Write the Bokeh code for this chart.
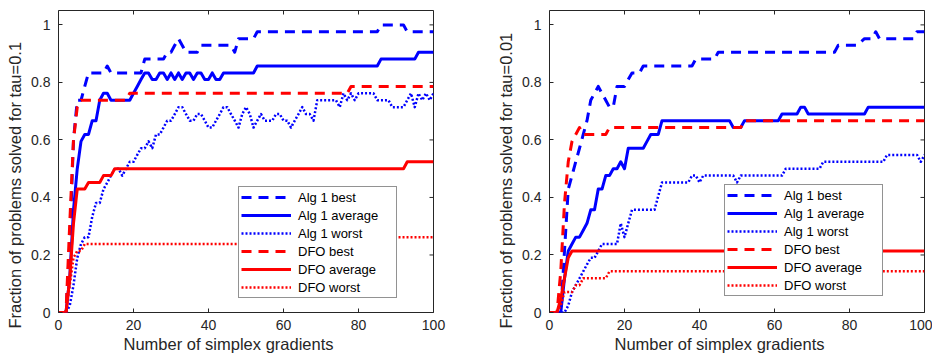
from bokeh.plotting import figure
from bokeh.layouts import row
from bokeh.models import FixedTicker, Legend, LegendItem, Range1d, Title
from bokeh.embed import file_html
from bokeh.resources import INLINE

# ---------------- data ----------------
x_ticks = [0, 20, 40, 60, 80, 100]
y_ticks = [0, 0.2, 0.4, 0.6, 0.8, 1.0]
y_tick_labels = ["0", "0.2", "0.4", "0.6", "0.8", "1"]
series_names = ["Alg 1 best", "Alg 1 average", "Alg 1 worst", "DFO best", "DFO average", "DFO worst"]
x_label = "Number of simplex gradients"
y_label_left = "Fraction of problems solved for tau=0.1"
y_label_right = "Fraction of problems solved for tau=0.01"
X_MIN, X_MAX = 0, 100
Y_MIN, Y_MAX = 0, 1.05

# tau = 0.1
t1_alg1_best_x = [0, 2, 3, 4, 5, 6, 7, 8, 12, 13, 14, 22, 23, 28, 29, 30, 31, 32, 34, 37, 38, 46, 47, 48, 51, 52, 53, 85, 86, 92, 93, 100]
t1_alg1_best_y = [0, 0, .24, .6, .738, .738, .786, .833, .833, .857, .833, .833, .881, .881, .905, .905, .929, .952, .905, .905, .929, .929, .905, .952, .952, .952, .976, .976, 1.0, 1.0, .976, .976]

t1_alg1_avg_x = [0, 2, 3, 4, 5, 6, 7, 8, 9, 10, 11, 12, 13, 14, 19, 20, 21, 22, 23, 24, 25, 26, 27, 28, 29, 30, 31, 32, 33, 34, 35, 36, 37, 38, 39, 40, 41, 42, 43, 44, 52, 53, 85, 86, 95, 96, 100]
t1_alg1_avg_y = [0, 0, .12, .357, .5, .595, .619, .619, .667, .667, .738, .762, .762, .738, .738, .762, .786, .81, .833, .833, .81, .81, .833, .833, .81, .833, .81, .833, .81, .833, .833, .81, .833, .833, .81, .81, .833, .81, .81, .833, .833, .857, .857, .881, .881, .905, .905]

t1_alg1_worst_x = [0] + list(range(2, 101))
t1_alg1_worst_y = [0,
                   0, .024, .095, .19, .238, .262, .262, .333, .381, .381,
                   .429, .452, .476, .5, .5, .476, .5, .524, .524, .548,
                   .571, .571, .595, .571, .619, .619, .643, .667, .667, .69,
                   .714, .714, .69, .667, .667, .69, .69, .667, .643, .643,
                   .667, .69, .714, .714, .69, .667, .643, .69, .714, .69,
                   .643, .667, .69, .667, .667, .667, .69, .69, .667, .667,
                   .643, .667, .69, .714, .69, .69, .667, .738, .738, .738,
                   .738, .738, .738, .714, .762, .738, .762, .738, .762, .762,
                   .762, .762, .762, .738, .738, .738, .738, .714, .714, .714,
                   .714, .738, .762, .714, .762, .738, .762, .738, .762]

t1_dfo_best_x = [0, 2, 3, 4, 5, 6, 18, 19, 77, 78, 100]
t1_dfo_best_y = [0, 0, .31, .6, .714, .738, .738, .762, .762, .786, .786]

t1_dfo_avg_x = [0, 2, 3, 4, 5, 7, 8, 11, 12, 14, 15, 92, 93, 100]
t1_dfo_avg_y = [0, 0, .119, .31, .429, .429, .452, .452, .476, .476, .5, .5, .524, .524]

t1_dfo_worst_x = [0, 2, 3, 4, 5, 6, 7, 75, 76, 100]
t1_dfo_worst_y = [0, 0, .095, .19, .214, .214, .238, .238, .262, .262]

# tau = 0.01
t2_alg1_best_x = [0, 3, 4, 5, 6, 7, 8, 9, 10, 11, 12, 13, 14, 15, 16, 17, 18, 20, 21, 22, 24, 25, 38, 39, 44, 45, 76, 77, 82, 84, 86, 87, 88, 97, 98, 100]
t2_alg1_best_y = [0, 0, .214, .429, .476, .524, .571, .619, .667, .738, .762, .786, .762, .738, .714, .714, .786, .786, .81, .833, .833, .857, .857, .881, .881, .905, .905, .929, .929, .952, .952, .976, .952, .952, .976, .976]

t2_alg1_avg_x = [0, 3, 4, 5, 6, 7, 8, 9, 10, 11, 12, 13, 14, 15, 16, 17, 18, 19, 20, 21, 25, 26, 27, 29, 30, 48, 49, 51, 52, 61, 62, 66, 67, 68, 69, 84, 85, 100]
t2_alg1_avg_y = [0, 0, .119, .214, .238, .262, .262, .286, .31, .357, .357, .429, .429, .476, .476, .5, .5, .524, .5, .571, .571, .595, .619, .619, .667, .667, .643, .643, .667, .667, .69, .69, .714, .714, .69, .69, .714, .714]

t2_alg1_worst_x = [0, 4, 5, 6, 7, 8, 9, 10, 11, 12, 13, 14, 18, 19, 20, 21, 22, 28, 29, 30, 37, 38, 39, 40, 41, 49, 50, 51, 62, 63, 72, 73, 89, 90, 98, 99, 100]
t2_alg1_worst_y = [0, 0, .024, .071, .095, .119, .143, .167, .19, .19, .214, .238, .238, .31, .262, .31, .357, .357, .405, .452, .452, .476, .476, .452, .476, .476, .452, .476, .476, .5, .5, .524, .524, .548, .548, .524, .548]

t2_dfo_best_x = [0, 2, 3, 4, 5, 6, 7, 8, 9, 15, 16, 51, 52, 100]
t2_dfo_best_y = [0, 0, .143, .381, .524, .595, .619, .643, .619, .619, .643, .643, .667, .667]

t2_dfo_avg_x = [0, 2, 3, 4, 5, 6, 100]
t2_dfo_avg_y = [0, 0, .048, .119, .19, .214, .214]

t2_dfo_worst_x = [0, 2, 3, 4, 6, 7, 8, 9, 15, 16, 100]
t2_dfo_worst_y = [0, 0, .024, .071, .071, .095, .095, .119, .119, .143, .143]

# ---------------- styling ----------------
BLUE = "#0000ff"
RED = "#ff0000"
INK = "#262626"
FONT = "Liberation Sans"
styles = [
    (BLUE, "10 7", 3.0),
    (BLUE, "solid", 3.0),
    (BLUE, "2 2", 2.5),
    (RED, "10 7", 3.0),
    (RED, "solid", 3.0),
    (RED, "2 2", 2.5),
]


def make_panel(series, ylabel, border_left, border_right, legend_xy):
    p = figure(frame_width=375, frame_height=302,
               min_border_left=border_left, min_border_right=border_right,
               min_border_top=10, min_border_bottom=46,
               x_range=Range1d(X_MIN, X_MAX), y_range=Range1d(Y_MIN, Y_MAX),
               output_backend="svg", toolbar_location=None,
               background_fill_color="white", border_fill_color="white",
               outline_line_color=INK, outline_line_width=1)
    p.xgrid.grid_line_color = None
    p.ygrid.grid_line_color = None

    p.xaxis.ticker = FixedTicker(ticks=x_ticks)
    p.yaxis.ticker = FixedTicker(ticks=y_ticks)
    p.yaxis.major_label_overrides = {t: s for t, s in zip(y_ticks, y_tick_labels)}
    for ax in [p.xaxis[0], p.yaxis[0]]:
        ax.axis_line_color = None
        ax.major_tick_in = 4
        ax.major_tick_out = 0
        ax.major_tick_line_color = INK
        ax.minor_tick_line_color = None
        ax.major_label_text_font = FONT
        ax.major_label_text_font_size = "14px"
        ax.major_label_text_color = INK
    p.xaxis.major_label_standoff = 7
    p.yaxis.major_label_standoff = 8

    # box ticks on the top and right edges (inner half only; outer half is clipped by the frame)
    p.scatter(x=x_ticks, y=[Y_MAX] * len(x_ticks), marker="dash", size=8, angle=1.5707963,
              line_color=INK, line_width=1)
    p.scatter(x=[X_MAX] * len(y_ticks), y=y_ticks, marker="dash", size=8,
              line_color=INK, line_width=1)

    p.add_layout(Title(text=ylabel, align="left", offset=-16, standoff=6,
                       vertical_align="top",
                       text_font=FONT, text_font_size="16.5px", text_font_style="normal",
                       text_color=INK), "left")
    p.add_layout(Title(text=x_label, align="left", offset=65, standoff=0,
                       vertical_align="bottom",
                       text_font=FONT, text_font_size="16.5px", text_font_style="normal",
                       text_color=INK), "below")

    renderers = []
    for (xs, ys), (color, dash, lw) in zip(series, styles):
        r = p.line(xs, ys, line_color=color, line_dash=dash, line_width=lw, line_join="round")
        renderers.append(r)

    legend = Legend(items=[LegendItem(label=n, renderers=[r]) for n, r in zip(series_names, renderers)],
                    location=legend_xy, orientation="vertical",
                    border_line_color=INK, border_line_width=1,
                    background_fill_color="white", background_fill_alpha=1.0,
                    label_text_font=FONT, label_text_font_size="13px", label_text_color="#000000",
                    glyph_width=50, glyph_height=16, label_height=16, label_width=96,
                    spacing=2, padding=2, margin=0, label_standoff=7)
    p.add_layout(legend)
    return p


left_series = [(t1_alg1_best_x, t1_alg1_best_y), (t1_alg1_avg_x, t1_alg1_avg_y),
               (t1_alg1_worst_x, t1_alg1_worst_y), (t1_dfo_best_x, t1_dfo_best_y),
               (t1_dfo_avg_x, t1_dfo_avg_y), (t1_dfo_worst_x, t1_dfo_worst_y)]
right_series = [(t2_alg1_best_x, t2_alg1_best_y), (t2_alg1_avg_x, t2_alg1_avg_y),
                (t2_alg1_worst_x, t2_alg1_worst_y), (t2_dfo_best_x, t2_dfo_best_y),
                (t2_dfo_avg_x, t2_dfo_avg_y), (t2_dfo_worst_x, t2_dfo_worst_y)]

p1 = make_panel(left_series, y_label_left, 58, 37, (180, 14))
p2 = make_panel(right_series, y_label_right, 79, 8, (175, 16))

layout = row(p1, p2)
open("out.html", "w").write(file_html(layout, INLINE))
